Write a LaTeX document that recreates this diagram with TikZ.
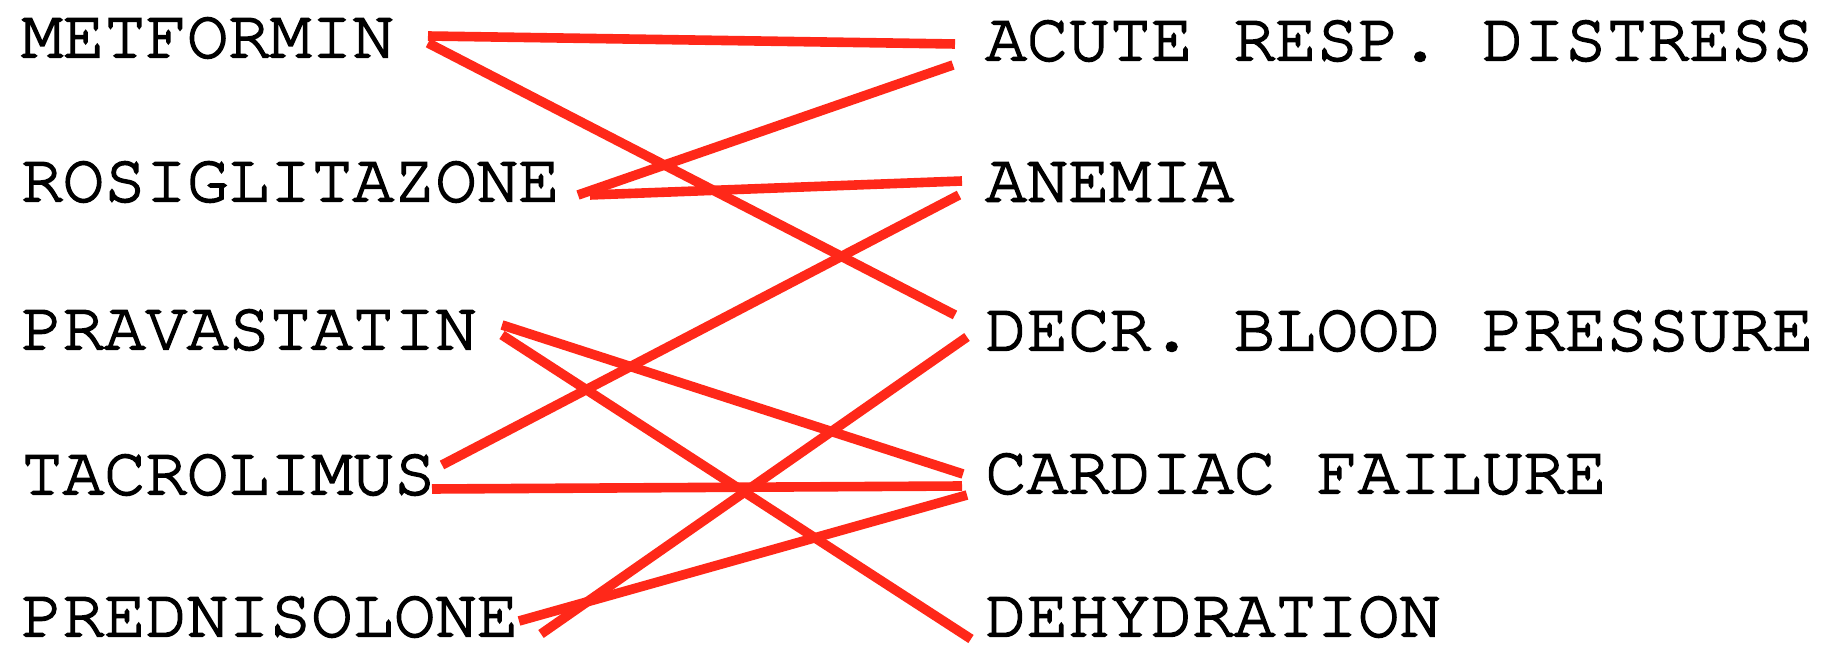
\documentclass[tikz,border=0pt]{standalone}
\usepackage{fontspec}
\newfontfamily\labfont[FakeBold=2.6]{texgyrecursor-regular.otf}
\definecolor{linkred}{RGB}{255,40,25}
\begin{document}
\begin{tikzpicture}[x=0.5pt,y=-0.5pt,
  lab/.style={anchor=west,inner sep=0pt,font=\labfont\fontsize{34.5pt}{40pt}\selectfont},
  link/.style={draw=linkred,line width=4.8pt,line cap=butt}]
\useasboundingbox (0,0) rectangle (1822,646);
% left column
\node[lab] (met) at (21,38)  {METFORMIN};
\node[lab] (ros) at (21,182) {ROSIGLITAZONE};
\node[lab] (pra) at (21,330) {PRAVASTATIN};
\node[lab] (tac) at (21,475) {TACROLIMUS};
\node[lab] (pre) at (21,617) {PREDNISOLONE};
% right column
\node[lab] (acu) at (985,41)  {ACUTE RESP. DISTRESS};
\node[lab] (ane) at (985,182) {ANEMIA};
\node[lab] (dec) at (985,331) {DECR. BLOOD PRESSURE};
\node[lab] (car) at (985,474) {CARDIAC FAILURE};
\node[lab] (deh) at (985,617) {DEHYDRATION};
% links
\draw[link] ([shift={(407,-2)}]met.west) -- ([shift={(-30,3)}]acu.west);
\draw[link] ([shift={(407,5)}]met.west) -- ([shift={(-30,-16)}]dec.west);
\draw[link] ([shift={(557,13)}]ros.west) -- ([shift={(-32,24)}]acu.west);
\draw[link] ([shift={(569,13)}]ros.west) -- ([shift={(-23,-1)}]ane.west);
\draw[link] ([shift={(421,-10)}]tac.west) -- ([shift={(-26,13)}]ane.west);
\draw[link] ([shift={(481,-5)}]pra.west) -- ([shift={(-22,0)}]car.west);
\draw[link] ([shift={(481,5)}]pra.west) -- ([shift={(-14,22)}]deh.west);
\draw[link] ([shift={(411,14)}]tac.west) -- ([shift={(-23,12)}]car.west);
\draw[link] ([shift={(520,17)}]pre.west) -- ([shift={(-18,6)}]dec.west);
\draw[link] ([shift={(498,4)}]pre.west) -- ([shift={(-18,21)}]car.west);
\end{tikzpicture}
\end{document}
